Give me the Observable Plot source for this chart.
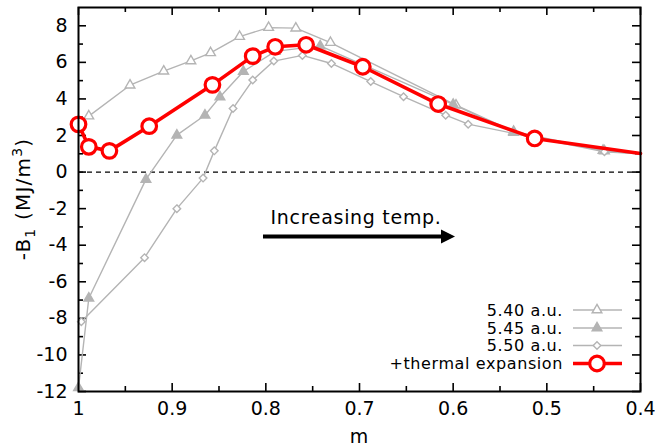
<!DOCTYPE html>
<html><head><meta charset="utf-8">
<script src="https://cdn.jsdelivr.net/npm/d3@7"></script>
<script src="https://cdn.jsdelivr.net/npm/@observablehq/plot@0.6"></script>
<style>body{margin:0;background:#fff;} svg{font-family:"DejaVu Sans";}</style>
</head><body><div id="chart"></div>
<script>
// ---- data ----
const m540 = [1.0, 0.989, 0.945, 0.909, 0.880, 0.859, 0.828, 0.797, 0.768, 0.731, 0.597, 0.5355, 0.44, 0.4];
const b540 = [2.7, 3.06, 4.75, 5.52, 6.08, 6.52, 7.41, 7.9, 7.87, 7.08, 3.66, 2.22, 1.18, 1.0];
const m545 = [1.0, 0.989, 0.928, 0.895, 0.865, 0.849, 0.824, 0.79, 0.742, 0.6, 0.5355, 0.4385, 0.4];
const b545 = [-11.8, -6.9, -0.4, 2.02, 3.11, 4.11, 5.5, 6.6, 6.9, 3.7, 2.17, 1.15, 1.0];
const m550 = [0.997, 0.9295, 0.895, 0.867, 0.855, 0.835, 0.814, 0.7915, 0.761, 0.730, 0.688, 0.653, 0.608, 0.584, 0.4385, 0.4];
const b550 = [-8.18, -4.68, -2.0, -0.33, 1.16, 3.48, 5.03, 6.07, 6.38, 5.94, 4.95, 4.12, 3.11, 2.62, 1.11, 1.0];
const mTh = [1.0, 0.989, 0.967, 0.9245, 0.857, 0.814, 0.790, 0.757, 0.6965, 0.616, 0.513, 0.4];
const bTh = [2.61, 1.38, 1.16, 2.51, 4.77, 6.34, 6.85, 6.96, 5.76, 3.72, 1.84, 1.02];
const seriesNames = ["5.40 a.u.", "5.45 a.u.", "5.50 a.u.", "+thermal expansion"];
const xMajor = [1, 0.9, 0.8, 0.7, 0.6, 0.5, 0.4];
const xMinor = [0.95, 0.85, 0.75, 0.65, 0.55, 0.45];
const yMajor = [-12, -10, -8, -6, -4, -2, 0, 2, 4, 6, 8];
const yMinor = [-11, -9, -7, -5, -3, -1, 1, 3, 5, 7];
const annoText = "Increasing temp.";
const annoM = 0.795, annoB = -2.5;
const arrowM = [0.8025, 0.5975], arrowB = -3.55;

const zip = (ms, bs) => ms.map((m, i) => ({m, b: bs[i]}));
const d540 = zip(m540, b540), d545 = zip(m545, b545), d550 = zip(m550, b550), dTh = zip(mTh, bTh);

const W = 659, H = 447, mL = 78, mR = 19, mT = 7, mB = 56;
const fw = W - mL - mR, fh = H - mT - mB;
const gray = "#b4b4b4", red = "#ff0000";
const gw = 1.4;

const chart = Plot.plot({
  width: W, height: H, marginLeft: mL, marginRight: mR, marginTop: mT, marginBottom: mB,
  style: {fontFamily: "DejaVu Sans", fontSize: "19px", color: "#000", background: "#fff", overflow: "visible"},
  x: {domain: [1, 0.4], label: null},
  y: {domain: [-12, 9], label: null},
  marks: [
    Plot.axisX(xMajor, {tickSize: 0, tickPadding: 10, fontSize: 19, tickFormat: d => String(d), label: null}),
    Plot.axisY(yMajor, {tickSize: 0, tickPadding: 11, fontSize: 19, tickFormat: d => String(d), label: null}),
    Plot.tickX(xMajor, {x: d => d, insetTop: fh - 8, stroke: "#000", strokeWidth: 1.6}),
    Plot.tickX(xMajor, {x: d => d, insetBottom: fh - 8, stroke: "#000", strokeWidth: 1.6}),
    Plot.tickX(xMinor, {x: d => d, insetTop: fh - 5, stroke: "#000", strokeWidth: 1.6}),
    Plot.tickX(xMinor, {x: d => d, insetBottom: fh - 5, stroke: "#000", strokeWidth: 1.6}),
    Plot.tickY(yMajor, {y: d => d, insetRight: fw - 8, stroke: "#000", strokeWidth: 1.6}),
    Plot.tickY(yMajor, {y: d => d, insetLeft: fw - 8, stroke: "#000", strokeWidth: 1.6}),
    Plot.tickY(yMinor, {y: d => d, insetRight: fw - 5, stroke: "#000", strokeWidth: 1.6}),
    Plot.tickY(yMinor, {y: d => d, insetLeft: fw - 5, stroke: "#000", strokeWidth: 1.6}),
    Plot.ruleY([0], {stroke: "#000", strokeWidth: 1.3, strokeDasharray: "5,4"}),
    Plot.line(d540, {x: "m", y: "b", stroke: gray, strokeWidth: gw}),
    Plot.line(d545, {x: "m", y: "b", stroke: gray, strokeWidth: gw}),
    Plot.line(d550, {x: "m", y: "b", stroke: gray, strokeWidth: gw}),
    Plot.dot(d540.slice(0, -1), {x: "m", y: "b", symbol: "triangle", r: 3.6, fill: "#fff", stroke: gray, strokeWidth: gw}),
    Plot.dot(d545.slice(0, -1), {x: "m", y: "b", symbol: "triangle", r: 3.6, fill: gray, stroke: gray, strokeWidth: gw}),
    Plot.dot(d550.slice(0, -1), {x: "m", y: "b", symbol: "diamond2", r: 3.4, fill: "#fff", stroke: gray, strokeWidth: gw}),
    Plot.line(dTh, {x: "m", y: "b", stroke: red, strokeWidth: 3.6}),
    Plot.dot(dTh.slice(0, -1), {x: "m", y: "b", r: 7.3, fill: "#fff", stroke: red, strokeWidth: 3.2}),
    Plot.text([annoText], {x: annoM, y: annoB, text: d => d, textAnchor: "start", fontSize: 19, fill: "#000"}),
    Plot.frame({stroke: "#000", strokeWidth: 2})
  ]
});
document.getElementById("chart").appendChild(chart);

const svg = d3.select(chart);
svg.selectAll("text").filter(function() { return this.textContent === annoText; }).attr("letter-spacing", 0.7);
const sx = chart.scale("x"), sy = chart.scale("y");
// arrow
{
  const x1 = sx.apply(arrowM[0]), x2 = sx.apply(arrowM[1]), y = sy.apply(arrowB);
  svg.append("line").attr("x1", x1).attr("x2", x2 - 10).attr("y1", y).attr("y2", y)
    .attr("stroke", "#000").attr("stroke-width", 4);
  svg.append("path").attr("d", `M${x2},${y}L${x2 - 14},${y - 7}L${x2 - 14},${y + 7}Z`).attr("fill", "#000");
}
// axis titles
svg.append("text").attr("x", mL + fw / 2).attr("y", 443).attr("text-anchor", "middle")
  .attr("font-size", 19).text("m");
{
  const t = svg.append("text").attr("transform", `translate(30,${mT + fh / 2}) rotate(-90)`)
    .attr("text-anchor", "middle").attr("font-size", 20).attr("letter-spacing", 1.2);
  t.append("tspan").text("-B");
  t.append("tspan").attr("font-size", 14).attr("dy", 5).text("1");
  t.append("tspan").attr("dy", -5).text(" (MJ/m");
  t.append("tspan").attr("font-size", 14).attr("dy", -8).text("3");
  t.append("tspan").attr("dy", 8).text(")");
}
// legend
{
  const g = svg.append("g").attr("font-size", 16).attr("letter-spacing", 0.6);
  const rowsY = [310, 328, 345.5, 363.5];
  const tx = 563, lx1 = 573, lx2 = 622, mx = 597;
  const sym = [d3.symbol(d3.symbolTriangle, Math.PI * 3.6 * 3.6), d3.symbol(d3.symbolTriangle, Math.PI * 3.6 * 3.6), d3.symbol(d3.symbolDiamond2, Math.PI * 3.4 * 3.4)];
  seriesNames.forEach((name, i) => {
    const y = rowsY[i];
    g.append("text").attr("x", tx).attr("y", y).attr("dy", "0.35em").attr("text-anchor", "end").text(name);
    if (i < 3) {
      g.append("line").attr("x1", lx1).attr("x2", lx2).attr("y1", y).attr("y2", y).attr("stroke", gray).attr("stroke-width", gw);
      g.append("path").attr("d", sym[i]()).attr("transform", `translate(${mx},${y})`)
        .attr("fill", i === 1 ? gray : "#fff").attr("stroke", gray).attr("stroke-width", gw);
    } else {
      g.append("line").attr("x1", lx1).attr("x2", lx2).attr("y1", y).attr("y2", y).attr("stroke", red).attr("stroke-width", 3.6);
      g.append("circle").attr("cx", mx).attr("cy", y).attr("r", 7.3).attr("fill", "#fff").attr("stroke", red).attr("stroke-width", 3.2);
    }
  });
}
</script>
</body></html>
